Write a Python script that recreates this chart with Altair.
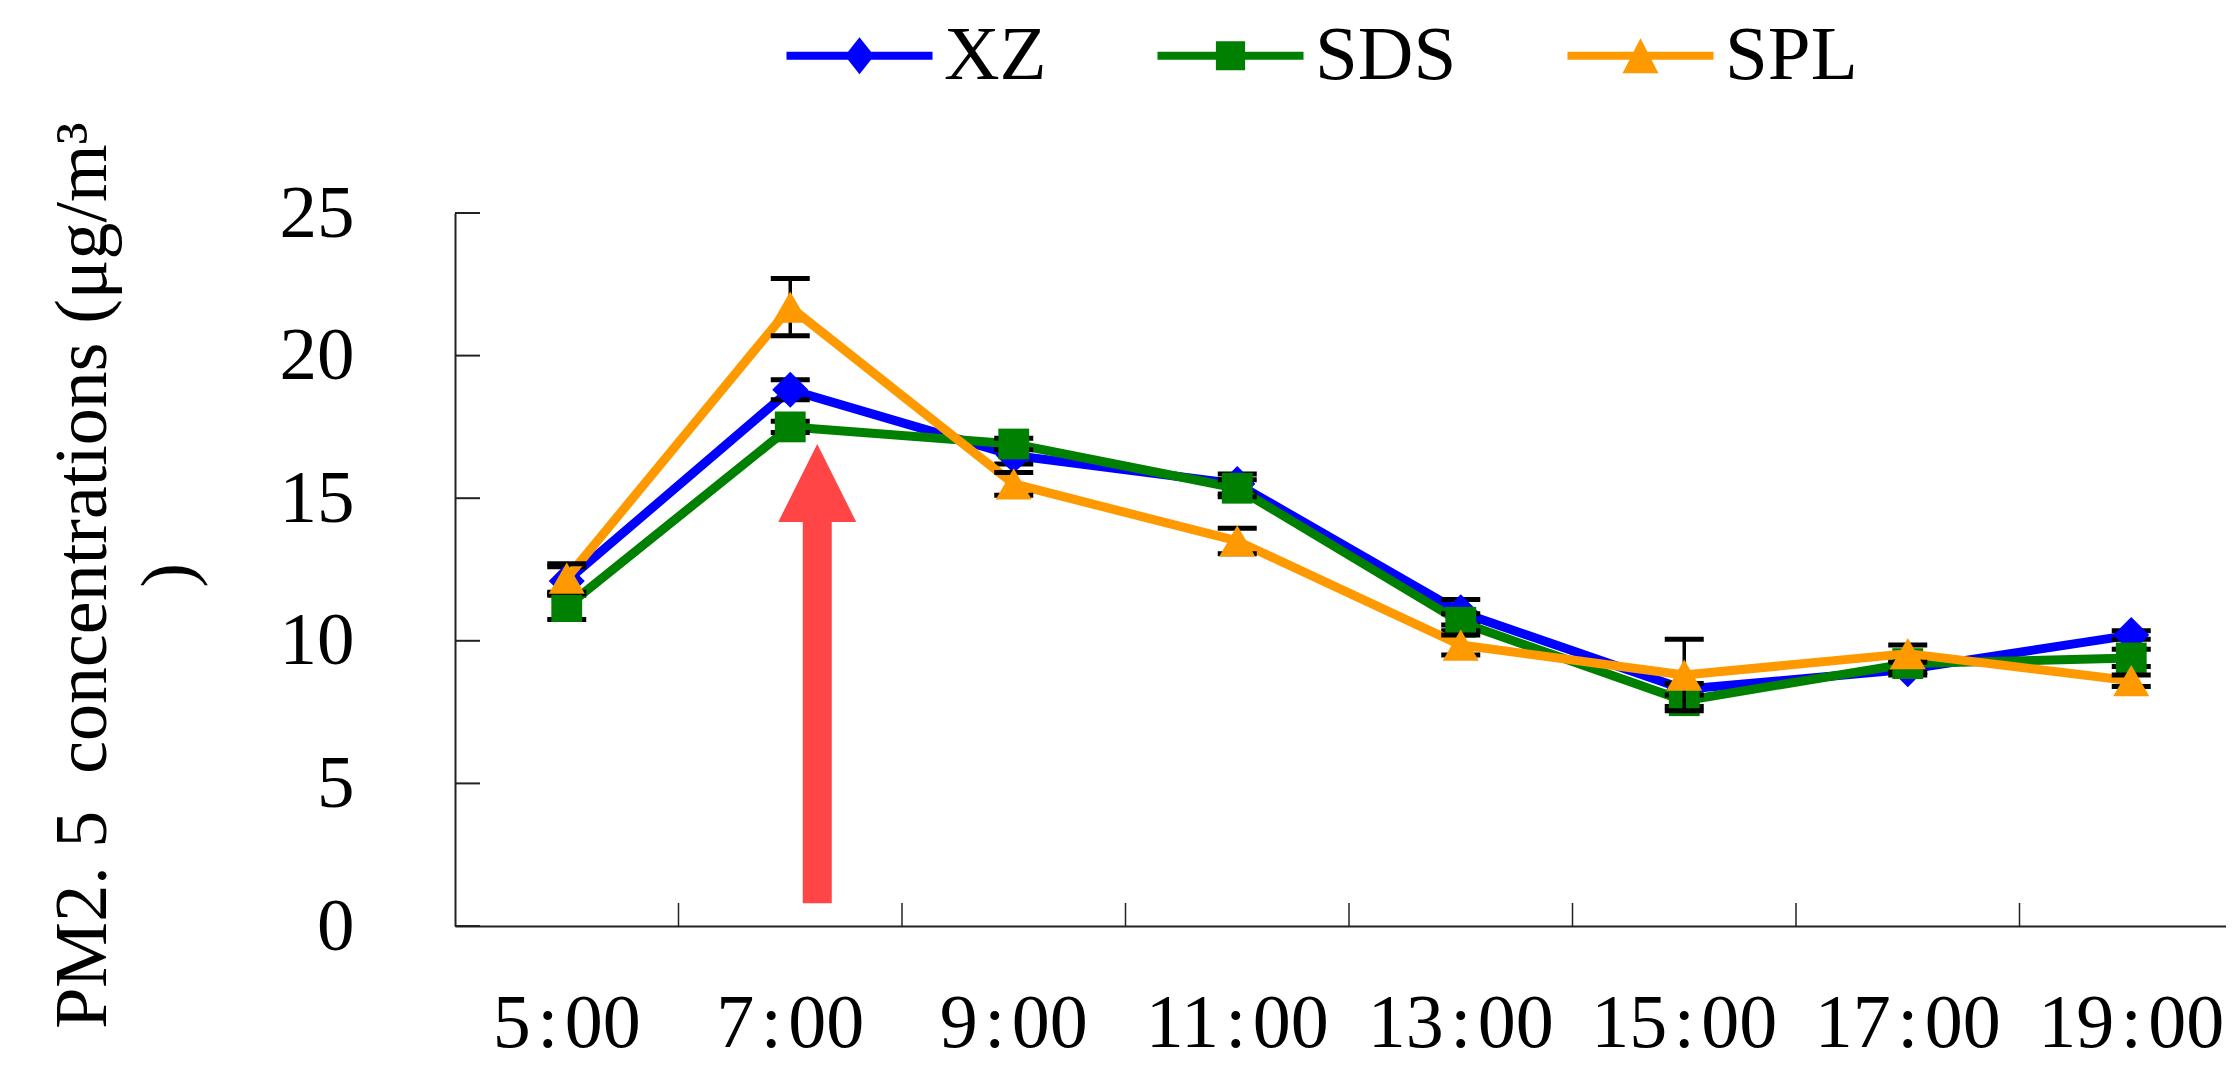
import altair as alt
import pandas as pd

# ---------------- data ----------------
times = ["5:00", "7:00", "9:00", "11:00", "13:00", "15:00", "17:00", "19:00"]
time_labels = ["5\u200a:\u200a00", "7\u200a:\u200a00", "9\u200a:\u200a00", "11\u200a:\u200a00",
               "13\u200a:\u200a00", "15\u200a:\u200a00", "17\u200a:\u200a00", "19\u200a:\u200a00"]
series = ["XZ", "SDS", "SPL"]
xz = [12.1, 18.8, 16.5, 15.5, 11.0, 8.3, 9.0, 10.2]
xz_err = [0.5, 0.35, 0.3, 0.35, 0.45, 0.2, 0.2, 0.15]
sds = [11.2, 17.5, 16.9, 15.35, 10.65, 7.9, 9.2, 9.4]
sds_err = [0.45, 0.2, 0.2, 0.3, 0.3, 0.2, 0.3, 0.3]
spl = [12.2, 21.7, 15.5, 13.5, 9.85, 8.8, 9.55, 8.6]
spl_err = [0.5, 1.0, 0.4, 0.45, 0.35, 1.25, 0.3, 0.2]
colors = ["#0000FF", "#008000", "#FF9900"]
shapes = ["diamond", "square", "triangle-up"]
y_ticks = [0, 5, 10, 15, 20, 25]
y_title = ["PM2. 5\u2002concentrations (\u03bcg/m\u00b3", ")"]
arrow_time = ["7:00"]
arrow_base = [0.8]
arrow_neck = [15.0]
arrow_tip = [16.9]

# legend symbols: line segment with marker (unit = symbol radius)
legend_paths = {
    "XZ": "M-5,-0.27H-0.787L0,-1.27L0.787,-0.27H5V0.27H0.787L0,1.27L-0.787,0.27H-5Z",
    "SDS": "M-5,-0.27H-1V-1H1V-0.27H5V0.27H1V1H-1V0.27H-5Z",
    "SPL": "M-5,-0.27H-0.477L0,-1.2L0.477,-0.27H5V0.27H0.753L1.23,1.2H-1.23L-0.753,0.27H-5Z",
}

vals = {"XZ": (xz, xz_err), "SDS": (sds, sds_err), "SPL": (spl, spl_err)}
rows = []
for s in series:
    v, e = vals[s]
    for t, a, b in zip(times, v, e):
        rows.append({"time": t, "series": s, "value": a, "lo": a - b, "hi": a + b})
df = pd.DataFrame(rows)

FONT = "Liberation Serif"
AX = "#222222"

label_expr = "{" + ", ".join(f"'{t}': '{l}'" for t, l in zip(times, time_labels)) + "}[datum.value]"

xscale = alt.Scale(type="band", domain=times, paddingInner=0, paddingOuter=0)
yscale = alt.Scale(domain=[0, 25], nice=False, zero=True)

xaxis = alt.Axis(title=None, labelAngle=0, labelFont=FONT, labelFontSize=76, labelColor="black",
                 labelPadding=120, labelBaseline="alphabetic", ticks=False, tickSize=0,
                 domainColor=AX, domainWidth=2, labelOverlap=False, grid=False,
                 labelLimit=600, labelExpr=label_expr)
yaxis = alt.Axis(title=y_title, values=y_ticks, labelFont=FONT, labelFontSize=75, labelColor="black",
                 labelPadding=101, labelBaseline="middle", ticks=False, tickSize=0,
                 domainColor=AX, domainWidth=2, grid=False,
                 titleFont=FONT, titleFontSize=74, titleFontWeight="normal", titleColor="black",
                 titleAngle=270, titleAlign="center", titleBaseline="middle",
                 titleX=-372, titleY=362, titleLineHeight=86)

shape_expr = (f"datum.value === 'XZ' ? '{legend_paths['XZ']}' : "
              f"datum.value === 'SDS' ? '{legend_paths['SDS']}' : '{legend_paths['SPL']}'")
legend = alt.Legend(orient="none", legendX=366, legendY=-196, direction="horizontal", title=None,
                    labelFont=FONT, labelFontSize=77, labelColor="black", labelLimit=600,
                    symbolSize=853, labelOffset=46, columnPadding=110, padding=0,
                    symbolStrokeWidth=0, symbolOpacity=1,
                    symbolType=alt.ExprRef(expr=shape_expr),
                    symbolFillColor=alt.ExprRef(expr="scale('color', datum.value)"))
cscale = alt.Scale(domain=series, range=colors)


def X(**kw):
    return alt.X("time:N", scale=xscale, axis=xaxis, sort=times, **kw)


def Y(field="value"):
    return alt.Y(f"{field}:Q", scale=yscale, axis=yaxis)


layers = []
for i, s in enumerate(series):
    d = df[df["series"] == s]
    base = alt.Chart(d)
    layers.append(base.mark_line(strokeWidth=9, strokeJoin="round", strokeCap="round").encode(
        x=X(), y=Y(), color=alt.Color("series:N", scale=cscale, legend=legend)))
    layers.append(base.mark_rule(color="black", strokeWidth=3.5).encode(
        x=X(), y=Y("lo"), y2="hi:Q"))
    for f in ["lo", "hi"]:
        layers.append(base.mark_tick(orient="horizontal", size=39, thickness=5, color="black", opacity=1).encode(
            x=X(), y=Y(f)))
    layers.append(base.mark_point(shape=shapes[i], filled=True, size=[1300, 950, 1300][i], opacity=1,
                                  strokeWidth=0).encode(
        x=X(), y=Y(), color=alt.Color("series:N", scale=cscale, legend=legend)))

# inner tick marks
ytick_df = pd.DataFrame({"value": y_ticks})
layers.append(alt.Chart(ytick_df).mark_rule(color=AX, strokeWidth=2).encode(
    y=Y(), x=alt.value(0), x2=alt.value(25)))
xtick_df = pd.DataFrame({"time": times[1:]})
layers.append(alt.Chart(xtick_df).mark_rule(color=AX, strokeWidth=1.5).encode(
    x=X(bandPosition=0), y=alt.value(713), y2=alt.value(690)))

# red arrow annotation
arrow_df = pd.DataFrame({"time": arrow_time, "value": arrow_base, "value2": arrow_neck, "tip": arrow_tip})
layers.append(alt.Chart(arrow_df).mark_rule(color="#FF4545", strokeWidth=29, strokeCap="butt", xOffset=27).encode(
    x=X(), y=Y(), y2="value2:Q"))
layers.append(alt.Chart(arrow_df).mark_point(shape="M0,0L1,2L-1,2Z", size=6084, filled=True, opacity=1,
                                             color="#FF4545", strokeWidth=0, xOffset=27).encode(
    x=X(), y=Y("tip")))

chart = alt.layer(*layers).properties(
    width=1788, height=713,
    autosize=alt.AutoSizeParams(type="none"),
    padding={"left": 447, "top": 205, "right": -17, "bottom": 138},
).configure(font=FONT, background="white").configure_view(stroke=None)

chart.save("out.html", embed_options={"renderer": "svg", "actions": False})
